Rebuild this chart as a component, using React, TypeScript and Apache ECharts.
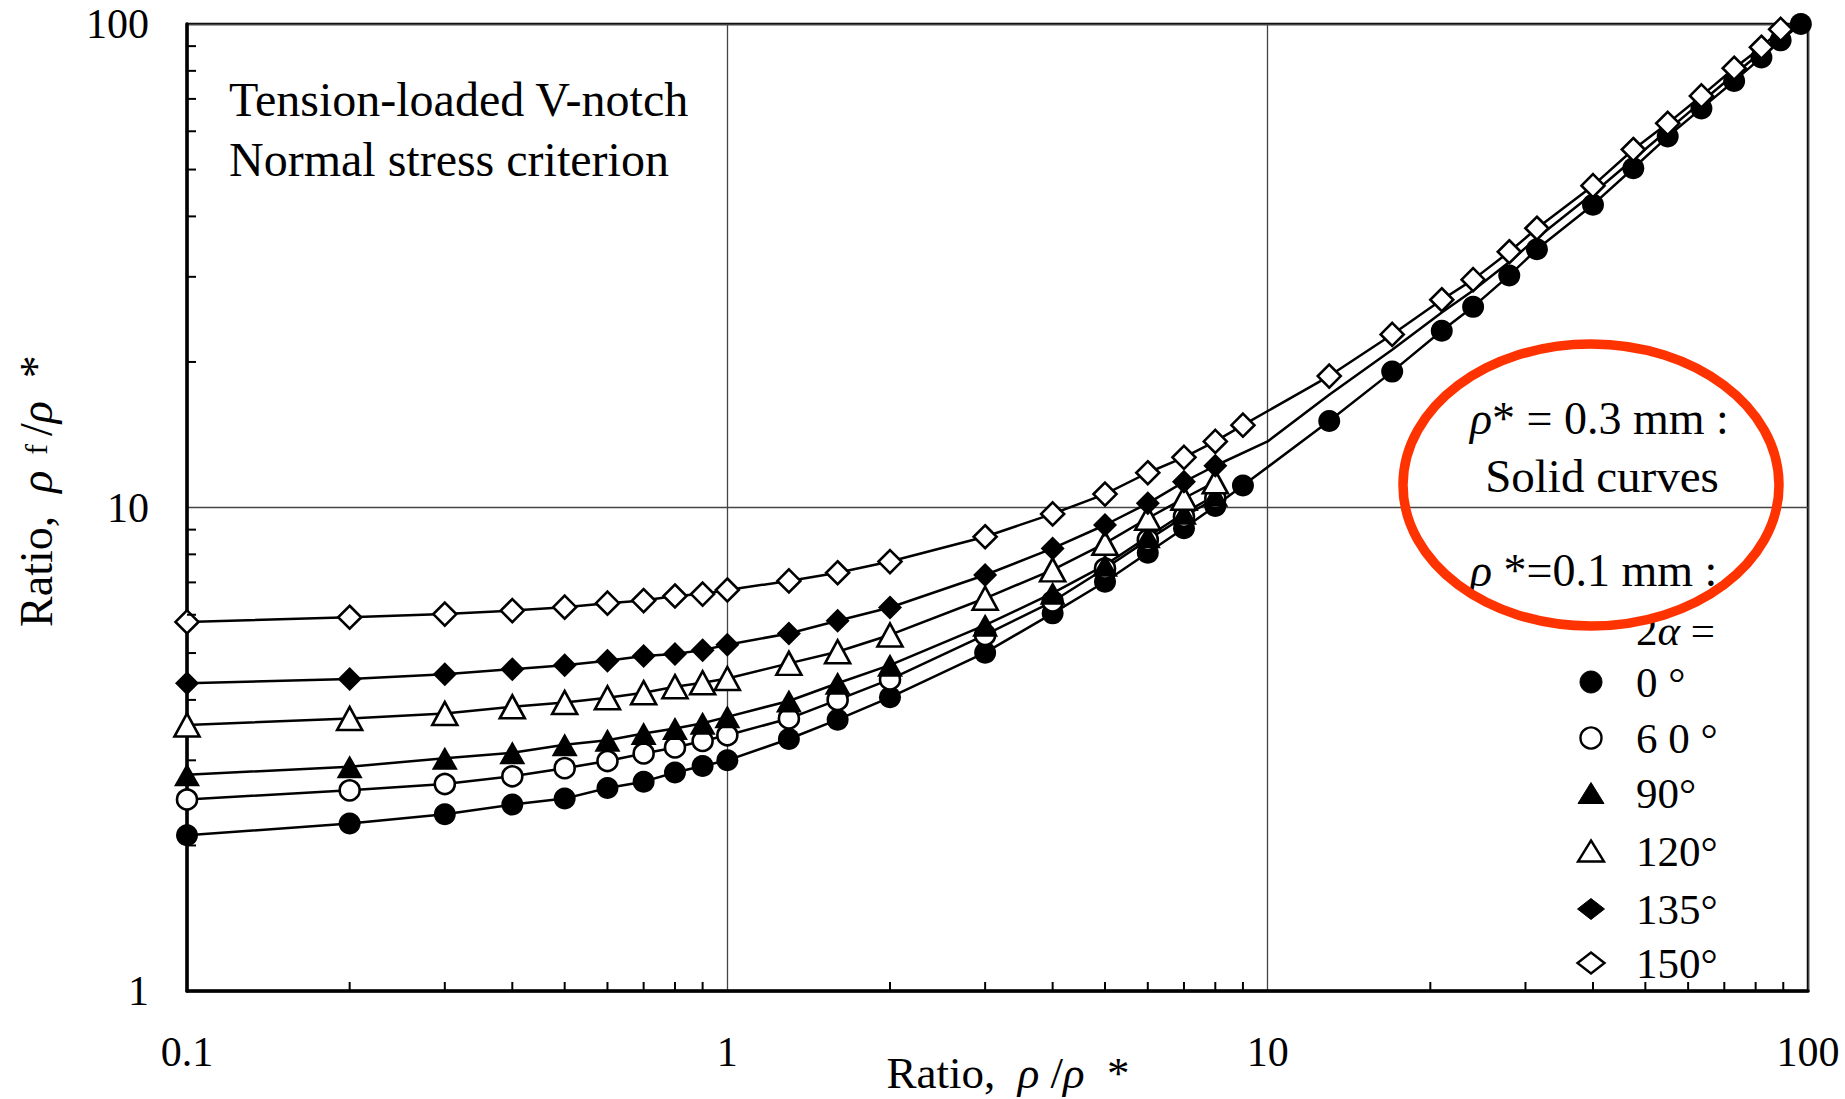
import React, { useEffect, useRef } from 'react';
import * as echarts from 'echarts';

// Notch opening angles 2α shown in the key
const ANGLE_LABELS = ['0 °', '6 0 °', '90°', '120°', '135°', '150°'];

// ρ/ρ* sample points shared by all six notch angles
const X_COMMON = [0.1, 0.2, 0.3, 0.4, 0.5, 0.6, 0.7, 0.8, 0.9, 1, 1.3, 1.6, 2, 3, 4, 5, 6, 7, 8];

// ρf/ρ* for each angle at X_COMMON
const Y_0 = [2.10, 2.22, 2.32, 2.43, 2.50, 2.63, 2.71, 2.83, 2.92, 3.00, 3.32, 3.64, 4.05, 5.01, 6.04, 7.02, 8.06, 9.06, 10.07];
const Y_60 = [2.49, 2.60, 2.68, 2.78, 2.89, 2.99, 3.10, 3.19, 3.29, 3.38, 3.66, 4.00, 4.41, 5.45, 6.39, 7.48, 8.57, 9.57, 10.45];
const Y_90 = [2.80, 2.91, 3.03, 3.11, 3.23, 3.30, 3.41, 3.49, 3.58, 3.69, 3.98, 4.33, 4.72, 5.71, 6.65, 7.60, 8.70, 9.73, 10.6];
const Y_120 = [3.55, 3.66, 3.75, 3.87, 3.95, 4.04, 4.14, 4.26, 4.34, 4.43, 4.76, 5.03, 5.45, 6.49, 7.43, 8.43, 9.50, 10.45, 11.3];
const Y_135 = [4.33, 4.42, 4.52, 4.63, 4.72, 4.82, 4.93, 4.98, 5.07, 5.20, 5.49, 5.83, 6.21, 7.25, 8.23, 9.20, 10.2, 11.3, 12.2];
const Y_150 = [5.80, 5.93, 6.02, 6.12, 6.22, 6.34, 6.42, 6.56, 6.62, 6.75, 7.05, 7.33, 7.73, 8.70, 9.70, 10.66, 11.8, 12.7, 13.7];

// larger ratios, computed only for 0° and 150°
const X_0_EXT = [9, 13, 17, 21, 24, 28, 31.5, 40, 47.5, 55, 63.5, 73, 82, 89, 97];
const Y_0_EXT = [11.1, 15.1, 19.1, 23.2, 26.0, 30.2, 34.2, 42.3, 50.3, 58.5, 66.9, 76.2, 85.3, 92.5, 100];
const X_150_EXT = [9, 13, 17, 21, 24, 28, 31.5, 40, 47.5, 55, 63.5, 73, 82, 89];
const Y_150_EXT = [14.8, 18.7, 22.8, 26.9, 29.6, 33.8, 37.8, 46.3, 55.0, 62.3, 71.0, 81.0, 89.5, 97.5];
// solid curve that carries on past the last 135° marker
const X_135_EXT = [10, 13, 17, 21, 24, 28, 31.5, 40, 47.5, 55, 63.5, 73, 82, 89, 97];
const Y_135_EXT = [13.7, 17.1, 21.2, 25.3, 28.1, 32.2, 36.1, 44.6, 52.5, 60.3, 69.0, 78.6, 87.5, 95.0, 100];

// minor tick positions inside each decade
const X_MINOR = [0.2, 0.3, 0.4, 0.5, 0.6, 0.7, 0.8, 0.9, 2, 3, 4, 5, 6, 7, 8, 9, 20, 30, 40, 50, 60, 70, 80, 90];
const Y_MINOR = [2, 3, 4, 5, 6, 7, 8, 9, 20, 30, 40, 50, 60, 70, 80, 90];

const SERIF = "'Liberation Serif', 'Times New Roman', serif";

const Y_ALL = [Y_0, Y_60, Y_90, Y_120, Y_135, Y_150];
const SYMBOLS = ['circle', 'circle', 'triangle', 'triangle', 'diamond', 'diamond'];
const FILLED = [true, false, true, false, true, false];
const SYMBOL_SIZES: any[] = [22, 20, [26, 23], [25, 23], 24, 23];

function buildSeries() {
  const series: any[] = [];
  Y_ALL.forEach((ys, i) => {
    const data: any[] = X_COMMON.map((x, j) => [x, ys[j]]);
    if (i === 0) X_0_EXT.forEach((x, j) => data.push([x, Y_0_EXT[j]]));
    if (i === 5) X_150_EXT.forEach((x, j) => data.push([x, Y_150_EXT[j]]));
    if (i === 4) X_135_EXT.forEach((x, j) => data.push({ value: [x, Y_135_EXT[j]], symbol: 'none' }));
    series.push({
      type: 'line',
      name: ANGLE_LABELS[i],
      data,
      symbol: SYMBOLS[i],
      symbolSize: SYMBOL_SIZES[i],
      showAllSymbol: true,
      lineStyle: { color: '#000', width: 2.5 },
      itemStyle: FILLED[i]
        ? { color: '#000', borderColor: '#000', borderWidth: 0 }
        : { color: '#fff', borderColor: '#000', borderWidth: 2.6 },
      emphasis: { disabled: true },
      z: 3,
    });
  });

  // inward minor ticks on the bottom axis
  series.push({
    type: 'custom',
    data: X_MINOR.map((x) => [x, 1]),
    silent: true,
    z: 5,
    renderItem: (_p: any, api: any) => {
      const pt = api.coord([api.value(0), api.value(1)]);
      return {
        type: 'line',
        shape: { x1: pt[0], y1: pt[1], x2: pt[0], y2: pt[1] - 9 },
        style: { stroke: '#000', lineWidth: 2 },
      };
    },
  });
  // inward minor ticks on the left axis
  series.push({
    type: 'custom',
    data: Y_MINOR.map((y) => [0.1, y]),
    silent: true,
    z: 5,
    renderItem: (_p: any, api: any) => {
      const pt = api.coord([api.value(0), api.value(1)]);
      return {
        type: 'line',
        shape: { x1: pt[0], y1: pt[1], x2: pt[0] + 9, y2: pt[1] },
        style: { stroke: '#000', lineWidth: 2 },
      };
    },
  });
  return series;
}

function legendSymbol(kind: string, filled: boolean, cx: number, cy: number) {
  const style = filled
    ? { fill: '#000', stroke: '#000', lineWidth: 1 }
    : { fill: '#fff', stroke: '#000', lineWidth: 2.4 };
  if (kind === 'circle') {
    return { type: 'circle', shape: { cx, cy, r: filled ? 11 : 10.5 }, style, z: 60 };
  }
  if (kind === 'triangle') {
    const w = 26, h = 21;
    return {
      type: 'polygon',
      shape: { points: [[cx, cy - h / 2], [cx + w / 2, cy + h / 2], [cx - w / 2, cy + h / 2]] },
      style,
      z: 60,
    };
  }
  const w = 27, h = 21;
  return {
    type: 'polygon',
    shape: { points: [[cx, cy - h / 2], [cx + w / 2, cy], [cx, cy + h / 2], [cx - w / 2, cy]] },
    style,
    z: 60,
  };
}

function buildGraphic() {
  const g: any[] = [];
  const txt = (text: string, x: number, y: number, size: number, align = 'left', extra: any = {}) => ({
    type: 'text',
    x,
    y,
    z: 50,
    style: { text, fontFamily: SERIF, fontSize: size, fill: '#000', align, verticalAlign: 'middle', ...extra },
  });

  g.push(txt('Tension-loaded V-notch', 229, 99, 48));
  g.push(txt('Normal stress criterion', 229, 159, 48));

  const greek = { fontFamily: SERIF, fontStyle: 'italic', fill: '#000' };
  g.push(
    txt('{g|ρ}{n|* = 0.3 mm :}', 1470, 418, 46, 'left', {
      rich: { g: { ...greek, fontSize: 46 }, n: { fontFamily: SERIF, fontSize: 46, fill: '#000' } },
    })
  );
  g.push(txt('Solid curves', 1602, 476, 47, 'center'));
  g.push(
    txt('{g|ρ}{n| *=0.1 mm :}', 1470, 570, 46, 'left', {
      rich: { g: { ...greek, fontSize: 46 }, n: { fontFamily: SERIF, fontSize: 46, fill: '#000' } },
    })
  );
  g.push(
    txt('{n|2}{g|α}{n| =}', 1636, 630, 43, 'left', {
      rich: { g: { ...greek, fontSize: 43 }, n: { fontFamily: SERIF, fontSize: 43, fill: '#000' } },
    })
  );

  const rowsY = [682, 738, 793, 851, 909, 963];
  ANGLE_LABELS.forEach((label, i) => {
    g.push(legendSymbol(SYMBOLS[i], FILLED[i], 1591, rowsY[i]));
    g.push(txt(label, 1636, rowsY[i], 43));
  });

  // axis titles
  g.push({
    type: 'text',
    x: 36,
    y: 491,
    rotation: Math.PI / 2,
    z: 50,
    style: {
      text: '{n|Ratio,  }{g|ρ}{s|  f }{n|/}{g|ρ}{n|  *}',
      align: 'center',
      verticalAlign: 'middle',
      rich: {
        n: { fontFamily: SERIF, fontSize: 46, fill: '#000' },
        g: { ...greek, fontSize: 46 },
        s: { fontFamily: SERIF, fontSize: 32, fill: '#000' },
      },
    },
  });
  g.push({
    type: 'text',
    x: 1008,
    y: 1073,
    z: 50,
    style: {
      text: '{n|Ratio,  }{g|ρ}{n| /}{g|ρ}{n|  *}',
      align: 'center',
      verticalAlign: 'middle',
      rich: {
        n: { fontFamily: SERIF, fontSize: 45, fill: '#000' },
        g: { ...greek, fontSize: 45 },
      },
    },
  });

  // highlight around the key
  g.push({
    type: 'ellipse',
    shape: { cx: 1591, cy: 485, rx: 188, ry: 141 },
    style: { fill: 'none', stroke: '#ff3300', lineWidth: 9.5 },
    z: 100,
  });
  return g;
}

const fmt = (v: number) => String(Number(Number(v).toPrecision(6)));

export default function App() {
  const ref = useRef<HTMLDivElement>(null);
  useEffect(() => {
    document.body.style.margin = '0';
    if (!ref.current) return;
    const chart = echarts.init(ref.current, undefined, { renderer: 'svg' });
    chart.setOption({
      animation: false,
      backgroundColor: '#fff',
      grid: {
        left: 187,
        right: 37,
        top: 24,
        bottom: 108,
        show: true,
        borderColor: '#000',
        borderWidth: 2.5,
        backgroundColor: 'transparent',
        outerBoundsMode: 'none',
      },
      xAxis: {
        type: 'log',
        logBase: 10,
        min: 0.1,
        max: 100,
        axisLine: { show: true, onZero: false, lineStyle: { color: '#000', width: 3.5 } },
        axisTick: { show: false },
        splitLine: { show: true, lineStyle: { color: '#444', width: 1.3 } },
        axisLabel: { fontFamily: SERIF, fontSize: 42, color: '#000', margin: 40, formatter: fmt },
      },
      yAxis: {
        type: 'log',
        logBase: 10,
        min: 1,
        max: 100,
        axisLine: { show: true, onZero: false, lineStyle: { color: '#000', width: 3.5 } },
        axisTick: { show: false },
        splitLine: { show: true, lineStyle: { color: '#444', width: 1.3 } },
        axisLabel: { fontFamily: SERIF, fontSize: 42, color: '#000', margin: 38, formatter: fmt },
      },
      series: buildSeries(),
      graphic: buildGraphic(),
    });
    return () => chart.dispose();
  }, []);
  return <div ref={ref} style={{ width: 1845, height: 1099 }} />;
}
